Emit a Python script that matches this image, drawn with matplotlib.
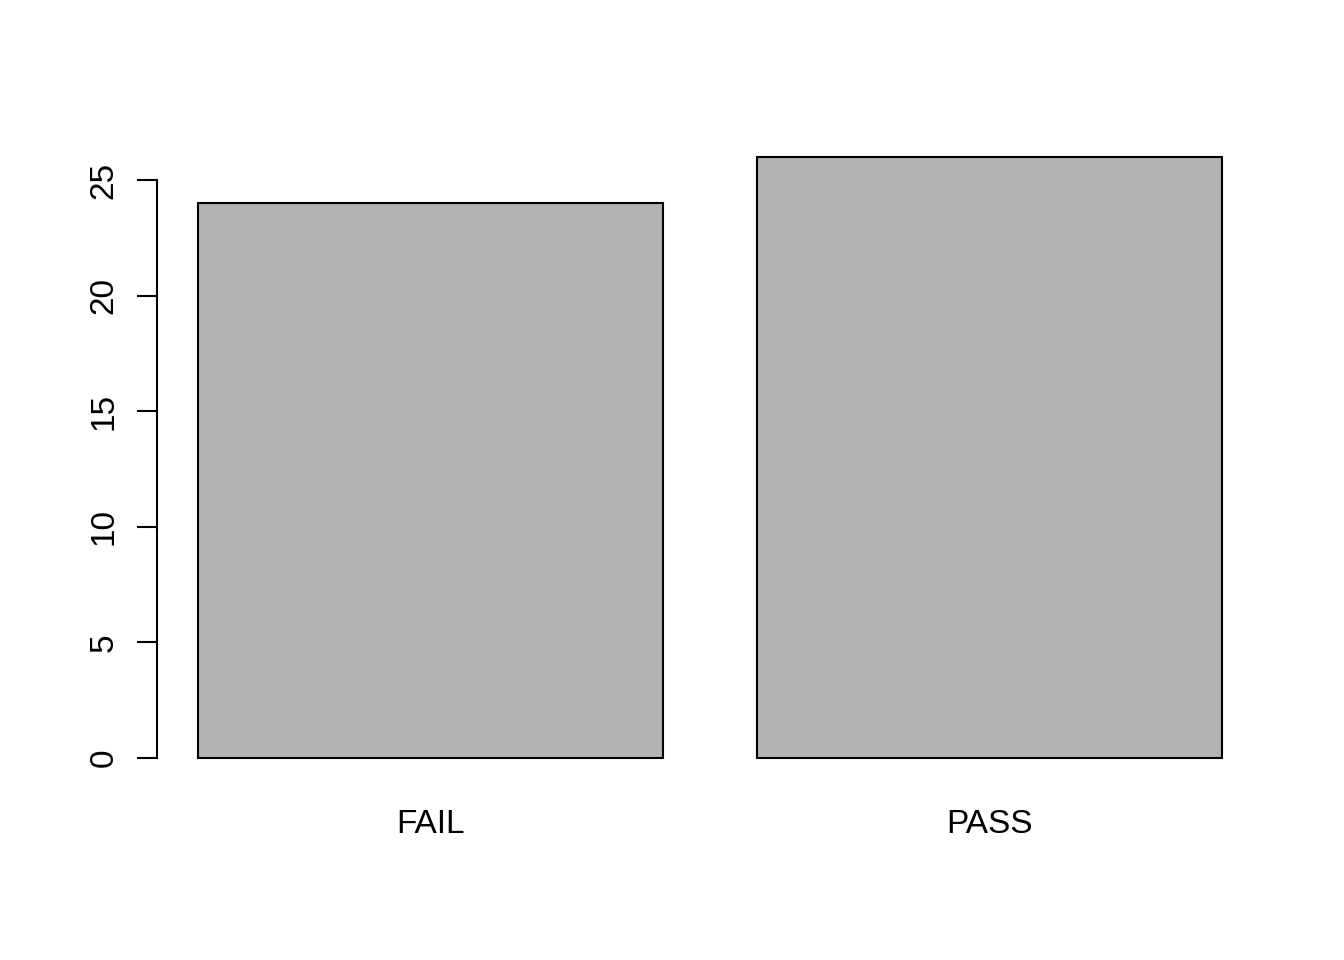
import matplotlib
matplotlib.use("Agg")
import matplotlib.pyplot as plt

# counts per outcome
categories = ["FAIL", "PASS"]
counts = [24, 26]
yticks = [0, 5, 10, 15, 20, 25]

plt.rcParams["font.family"] = ["Liberation Sans", "DejaVu Sans"]

fig = plt.figure(figsize=(13.44, 9.6), dpi=100)
W, H = 1344, 960
# plot region in pixels (R default margins)
x0, x1 = 157, 1263
y0, y1 = 133, 782
ax = fig.add_axes([x0 / W, (H - y1) / H, (x1 - x0) / W, (y1 - y0) / H])

# R barplot layout: width 1, space 0.2
lefts = [0.2 + i * 1.2 for i in range(len(counts))]
centers = [l + 0.5 for l in lefts]
ax.bar(centers, counts, width=1.0, color="#b2b2b2", edgecolor="black", linewidth=1.5)

ax.set_xlim(0.112, 2.488)
top = max(counts)
ax.set_ylim(-0.04 * top, top * 1.04)

for s in ["top", "right", "bottom"]:
    ax.spines[s].set_visible(False)
ax.spines["left"].set_bounds(yticks[0], yticks[-1])
ax.spines["left"].set_linewidth(1.5)

ax.set_yticks(yticks)
ax.set_yticklabels([str(t) for t in yticks], rotation=90, va="center")
ax.tick_params(axis="y", length=14.4, width=1.5, pad=12.5, labelsize=24)

ax.set_xticks(centers)
ax.set_xticklabels(categories)
ax.tick_params(axis="x", length=0, pad=19.5, labelsize=24)

fig.savefig("out.png", dpi=100)
